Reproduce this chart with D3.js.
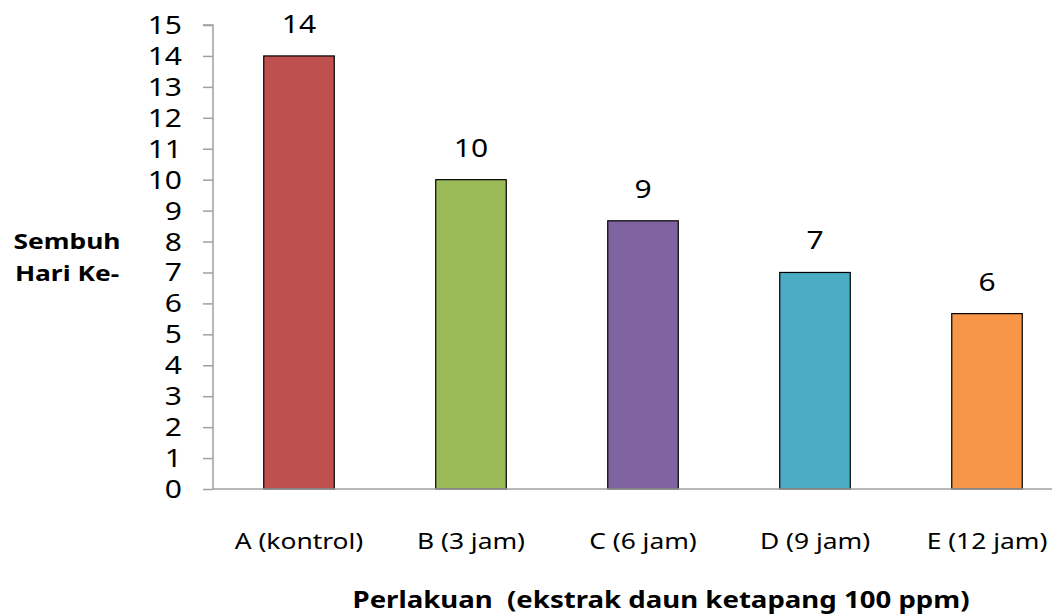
<!DOCTYPE html>
<html>
<head>
<meta charset="utf-8">
<script src="https://cdn.jsdelivr.net/npm/d3@7"></script>
<style>
  body { margin: 0; background: #fff; }
  svg { display: block; font-family: "Noto Sans", "Open Sans", sans-serif; }
</style>
</head>
<body>
<svg width="1052" height="616"></svg>
<script>
// --- Data ---
const categories = ["A (kontrol)", "B (3 jam)", "C (6 jam)", "D (9 jam)", "E (12 jam)"];
const values = [14, 10, 8.67, 7, 5.67];
const valueLabels = ["14", "10", "9", "7", "6"];
const barColors = ["#C0504D", "#9BBB59", "#8064A2", "#4BACC6", "#F79646"];
const yTicks = d3.range(0, 16);

// --- Setup ---
const svg = d3.select("svg");
const SX = 1.2; // source picture is stretched horizontally

const x0 = 213, x1 = 1073, yBase = 489, yTop = 25;

const x = d3.scaleBand()
    .domain(categories)
    .range([x0, x1])
    .paddingInner(0.59)
    .paddingOuter(0.295);

const y = d3.scaleLinear()
    .domain([0, 15])
    .range([yBase, yTop]);

// stretched text helper
function label(g, tx, ty, str, size, anchor, weight) {
    return g.append("text")
        .attr("transform", `translate(${tx},${ty}) scale(${SX},1)`)
        .attr("text-anchor", anchor || "middle")
        .attr("font-size", size + "px")
        .attr("font-weight", weight || "normal")
        .attr("fill", "#000")
        .text(str);
}

// --- Y axis ---
const yAxis = svg.append("g")
    .attr("transform", `translate(${x0},0)`)
    .call(d3.axisLeft(y).tickValues(yTicks).tickSize(10).tickFormat(""));
yAxis.select(".domain").attr("stroke", "#a0a0a0").attr("stroke-width", 1.5)
    .attr("d", `M-10,${yTop}H0V${yBase}`);
yAxis.selectAll(".tick line").attr("stroke", "#a0a0a0").attr("stroke-width", 1.5);

yTicks.forEach(t => {
    label(svg, 182, y(t) + 9, String(t), 25, "end");
});

// --- Bars ---
svg.append("g")
    .selectAll("rect")
    .data(values)
    .join("rect")
    .attr("x", (d, i) => x(categories[i]))
    .attr("y", d => y(d))
    .attr("width", x.bandwidth())
    .attr("height", d => yBase - y(d))
    .attr("fill", (d, i) => barColors[i])
    .attr("stroke", "#000")
    .attr("stroke-width", 1.2);

// --- X axis line ---
svg.append("line")
    .attr("x1", x0).attr("x2", x1)
    .attr("y1", yBase).attr("y2", yBase)
    .attr("stroke", "#a0a0a0")
    .attr("stroke-width", 1.5);

// --- Value labels ---
values.forEach((v, i) => {
    label(svg, x(categories[i]) + x.bandwidth() / 2, y(v) - 23, valueLabels[i], 25);
});

// --- Category labels ---
categories.forEach(c => {
    label(svg, x(c) + x.bandwidth() / 2, 549, c, 22);
});

// --- Axis titles ---
label(svg, 661, 608, "Perlakuan  (ekstrak daun ketapang 100 ppm)", 23, "middle", "bold")
    .attr("xml:space", "preserve").style("white-space", "pre");
label(svg, 67, 249, "Sembuh", 22, "middle", "bold");
label(svg, 67, 281, "Hari Ke-", 22, "middle", "bold");
</script>
</body>
</html>
